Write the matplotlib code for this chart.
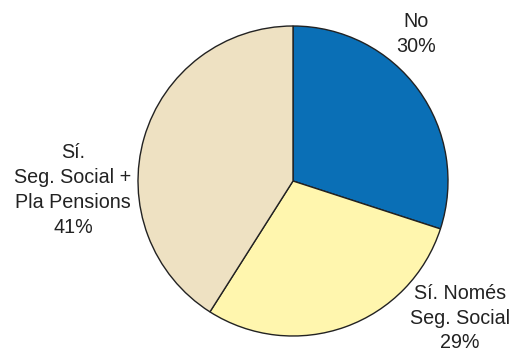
import matplotlib
matplotlib.use("Agg")
import matplotlib.pyplot as plt

labels = ["No", "Sí. Només\nSeg. Social", "Sí.\nSeg. Social +\nPla Pensions"]
values = [30, 29, 41]
colors = ["#0A6FB6", "#FFF6AE", "#EEE1C2"]

plt.rcParams['font.family'] = ['Liberation Sans', 'DejaVu Sans']

W, H = 522, 354
fig = plt.figure(figsize=(W/100, H/100), dpi=100)
ax = fig.add_axes([0, 0, 1, 1])

ax.pie(values, colors=colors, startangle=90, counterclock=False,
       center=(293, H-181), radius=155,
       wedgeprops=dict(edgecolor="#222222", linewidth=1.0), frame=True)
ax.set_xlim(0, W)
ax.set_ylim(0, H)
ax.set_aspect('equal')
ax.axis('off')

pos = [(416, H-34), (460, H-318), (73, H-190)]
for lab, v, (x, y) in zip(labels, values, pos):
    ax.text(x, y, f"{lab}\n{v}%", ha='center', va='center', fontsize=14.2,
            color="#222222", linespacing=1.38)

fig.savefig("out.png", dpi=100)
